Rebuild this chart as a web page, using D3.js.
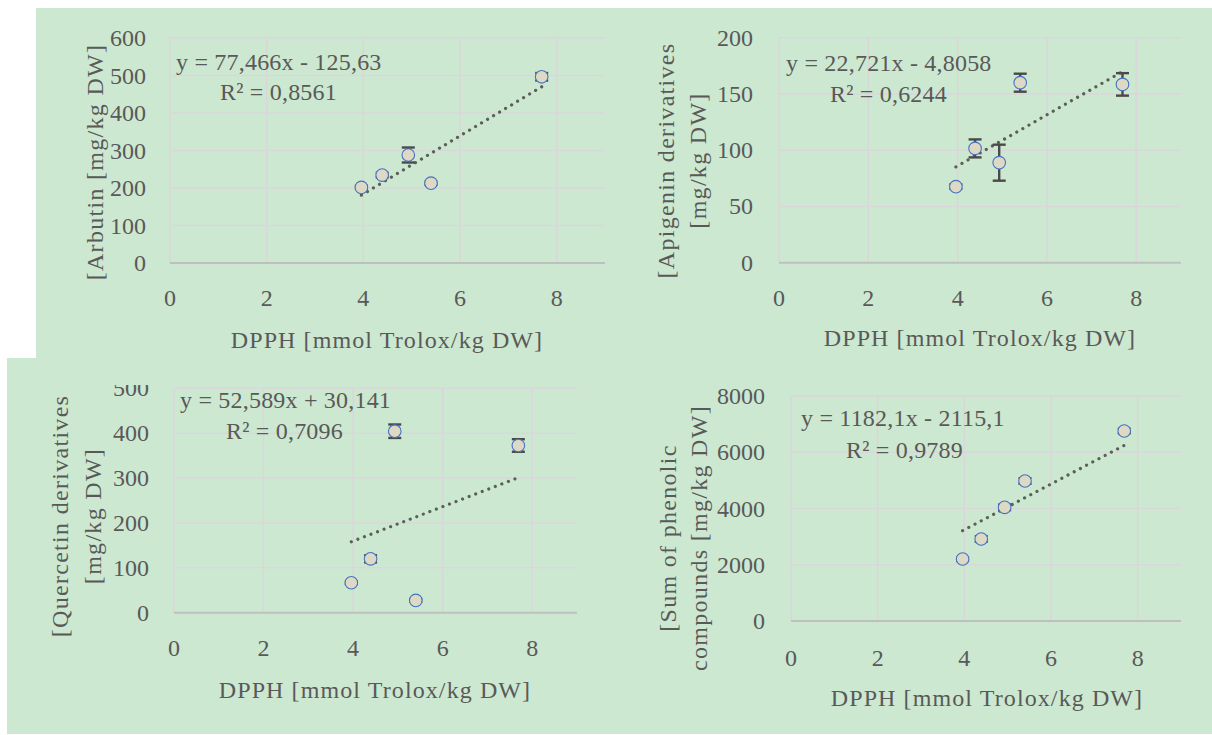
<!DOCTYPE html>
<html><head><meta charset="utf-8">
<script src="https://cdn.jsdelivr.net/npm/d3@7"></script>
<style>body{margin:0;background:#fff} svg{display:block}</style>
</head><body>
<svg id="c" width="1212" height="735"></svg>
<script>
// ---- data ----
const dpph = [3.96, 4.39, 4.93, 5.40, 7.69];
const xTicks = [0, 2, 4, 6, 8];
const xMax = 9;

const arbutin = [201.5, 234.5, 288, 213, 496.6];
const arbutinErr = [4, 6, 20, 4, 10];
const apigenin = [67.6, 101.6, 88.9, 160, 158.5];
const apigeninErr = [2, 8, 16, 8, 10];
const quercetin = [66.7, 120, 404.4, 27.4, 372.6];
const quercetinErr = [3, 8, 15, 3, 14];
const phenolic = [2204, 2916, 4041, 4978, 6756];
const phenolicErr = [60, 100, 100, 100, 80];

const yTicksArbutin = [0, 100, 200, 300, 400, 500, 600];
const yTicksApigenin = [0, 50, 100, 150, 200];
const yTicksQuercetin = [0, 100, 200, 300, 400, 500];
const yTicksPhenolic = [0, 2000, 4000, 6000, 8000];

const equations = ["y = 77,466x - 125,63", "y = 22,721x - 4,8058", "y = 52,589x + 30,141", "y = 1182,1x - 2115,1"];
const rSquared = ["R² = 0,8561", "R² = 0,6244", "R² = 0,7096", "R² = 0,9789"];
const trendStart = [181, 85.2, 158, 3212];
const trendEnd = [470, 169.9, 301, 6246];

const yTitles = [
  ["[Arbutin [mg/kg DW]"],
  ["[Apigenin derivatives", "[mg/kg DW]"],
  ["[Quercetin derivatives", "[mg/kg DW]"],
  ["[Sum of phenolic", "compounds [mg/kg DW]"]
];
const xTitle = "DPPH [mmol Trolox/kg DW]";

// ---- layout ----
const panels = [
  {ys: arbutin, err: arbutinErr, ticks: yTicksArbutin, yMax: 600, xr: [170, 605], yr: [263, 38], yTickRight: 146, xTickY: 298, xT: [387, 340], yTx: [95], yTy: 162, eq: [176, 62], r2: [220, 92]},
  {ys: apigenin, err: apigeninErr, ticks: yTicksApigenin, yMax: 200, xr: [779, 1181], yr: [262.7, 37.7], yTickRight: 753, xTickY: 298, xT: [980, 338], yTx: [666, 698], yTy: 160.5, eq: [786, 63], r2: [830, 94]},
  {ys: quercetin, err: quercetinErr, ticks: yTicksQuercetin, yMax: 500, xr: [174, 577], yr: [612.7, 388.3], yTickRight: 149, xTickY: 648, xT: [375, 690], yTx: [60, 93], yTy: 516, eq: [180, 400], r2: [226, 431], clipTop: 385},
  {ys: phenolic, err: phenolicErr, ticks: yTicksPhenolic, yMax: 8000, xr: [791, 1181], yr: [621, 396], yTickRight: 765, xTickY: 658, xT: [987, 698], yTx: [668, 699], yTy: 538, eq: [801, 418], r2: [846, 450]}
];

const FONT = "'Liberation Serif', 'Times New Roman', serif";
const TXT = "#595959";
const svg = d3.select("#c");
const defs = svg.append("defs");

svg.append("path")
  .attr("d", "M36,8 H1212 V734 H7 V358 H36 Z")
  .attr("fill", "#cde8d0");

panels.forEach((p, i) => {
  const g = svg.append("g");
  if (p.clipTop) {
    defs.append("clipPath").attr("id", "clip" + i)
      .append("rect").attr("x", 0).attr("y", p.clipTop).attr("width", 1212).attr("height", 735 - p.clipTop);
    g.attr("clip-path", `url(#clip${i})`);
  }
  const x = d3.scaleLinear().domain([0, xMax]).range(p.xr);
  const y = d3.scaleLinear().domain([0, p.yMax]).range(p.yr);

  // horizontal gridlines
  g.append("g").selectAll("line").data(p.ticks.filter(t => t > 0)).join("line")
    .attr("x1", x(0)).attr("x2", x(xMax)).attr("y1", d => y(d)).attr("y2", d => y(d))
    .attr("stroke", "#d9d7da").attr("stroke-width", 1.5);
  // vertical gridlines
  g.append("g").selectAll("line").data(xTicks).join("line")
    .attr("x1", d => x(d)).attr("x2", d => x(d)).attr("y1", y(0)).attr("y2", y(p.yMax))
    .attr("stroke", "#d9d7da").attr("stroke-width", 1.5);
  // x axis baseline
  g.append("line").attr("x1", x(0)).attr("x2", x(xMax)).attr("y1", y(0)).attr("y2", y(0))
    .attr("stroke", "#bfbfbf").attr("stroke-width", 2);

  // tick labels
  g.append("g").selectAll("text").data(p.ticks).join("text")
    .attr("x", p.yTickRight).attr("y", d => y(d)).attr("text-anchor", "end")
    .attr("dominant-baseline", "central")
    .attr("font-family", FONT).attr("font-size", 24).attr("fill", TXT)
    .text(d => d);
  g.append("g").selectAll("text").data(xTicks).join("text")
    .attr("x", d => x(d)).attr("y", p.xTickY).attr("text-anchor", "middle")
    .attr("dominant-baseline", "central")
    .attr("font-family", FONT).attr("font-size", 24).attr("fill", TXT)
    .text(d => d);

  // axis titles
  g.append("text").attr("x", p.xT[0]).attr("y", p.xT[1]).attr("text-anchor", "middle")
    .attr("dominant-baseline", "central")
    .attr("font-family", FONT).attr("font-size", 24).attr("fill", TXT)
    .attr("letter-spacing", 1.1).text(xTitle);
  yTitles[i].forEach((line, k) => {
    g.append("text")
      .attr("transform", `translate(${p.yTx[k]},${p.yTy}) rotate(-90)`)
      .attr("text-anchor", "middle").attr("dominant-baseline", "central")
      .attr("font-family", FONT).attr("font-size", 24).attr("fill", TXT)
      .attr("letter-spacing", 1.3).text(line);
  });

  // trend line
  const xMin = d3.min(dpph), xMx = d3.max(dpph);
  g.append("line")
    .attr("x1", x(xMin)).attr("y1", y(trendStart[i]))
    .attr("x2", x(xMx)).attr("y2", y(trendEnd[i]))
    .attr("stroke", "#5a5f5a").attr("stroke-width", 3.2)
    .attr("stroke-linecap", "round").attr("stroke-dasharray", "0.01 7");

  // error bars
  const eb = g.append("g").attr("stroke", "#4a4a4a").attr("stroke-width", 2.4);
  dpph.forEach((dx, j) => {
    const cx = x(dx), lo = y(p.ys[j] - p.err[j]), hi = y(p.ys[j] + p.err[j]);
    eb.append("line").attr("x1", cx).attr("x2", cx).attr("y1", lo).attr("y2", hi);
    eb.append("line").attr("x1", cx - 6.5).attr("x2", cx + 6.5).attr("y1", lo).attr("y2", lo);
    eb.append("line").attr("x1", cx - 6.5).attr("x2", cx + 6.5).attr("y1", hi).attr("y2", hi);
  });

  // markers
  g.append("g").selectAll("circle").data(dpph).join("circle")
    .attr("cx", d => x(d)).attr("cy", (d, j) => y(p.ys[j])).attr("r", 6.3)
    .attr("fill", "#ddd9c4").attr("stroke", "#4472c4").attr("stroke-width", 1.1);

  // equation
  g.append("text").attr("x", p.eq[0]).attr("y", p.eq[1]).attr("dominant-baseline", "central")
    .attr("font-family", FONT).attr("font-size", 24).attr("fill", TXT)
    .attr("letter-spacing", 0.2).text(equations[i]);
  g.append("text").attr("x", p.r2[0]).attr("y", p.r2[1]).attr("dominant-baseline", "central")
    .attr("font-family", FONT).attr("font-size", 24).attr("fill", TXT)
    .attr("letter-spacing", 0.2).text(rSquared[i]);
});
</script>
</body></html>
